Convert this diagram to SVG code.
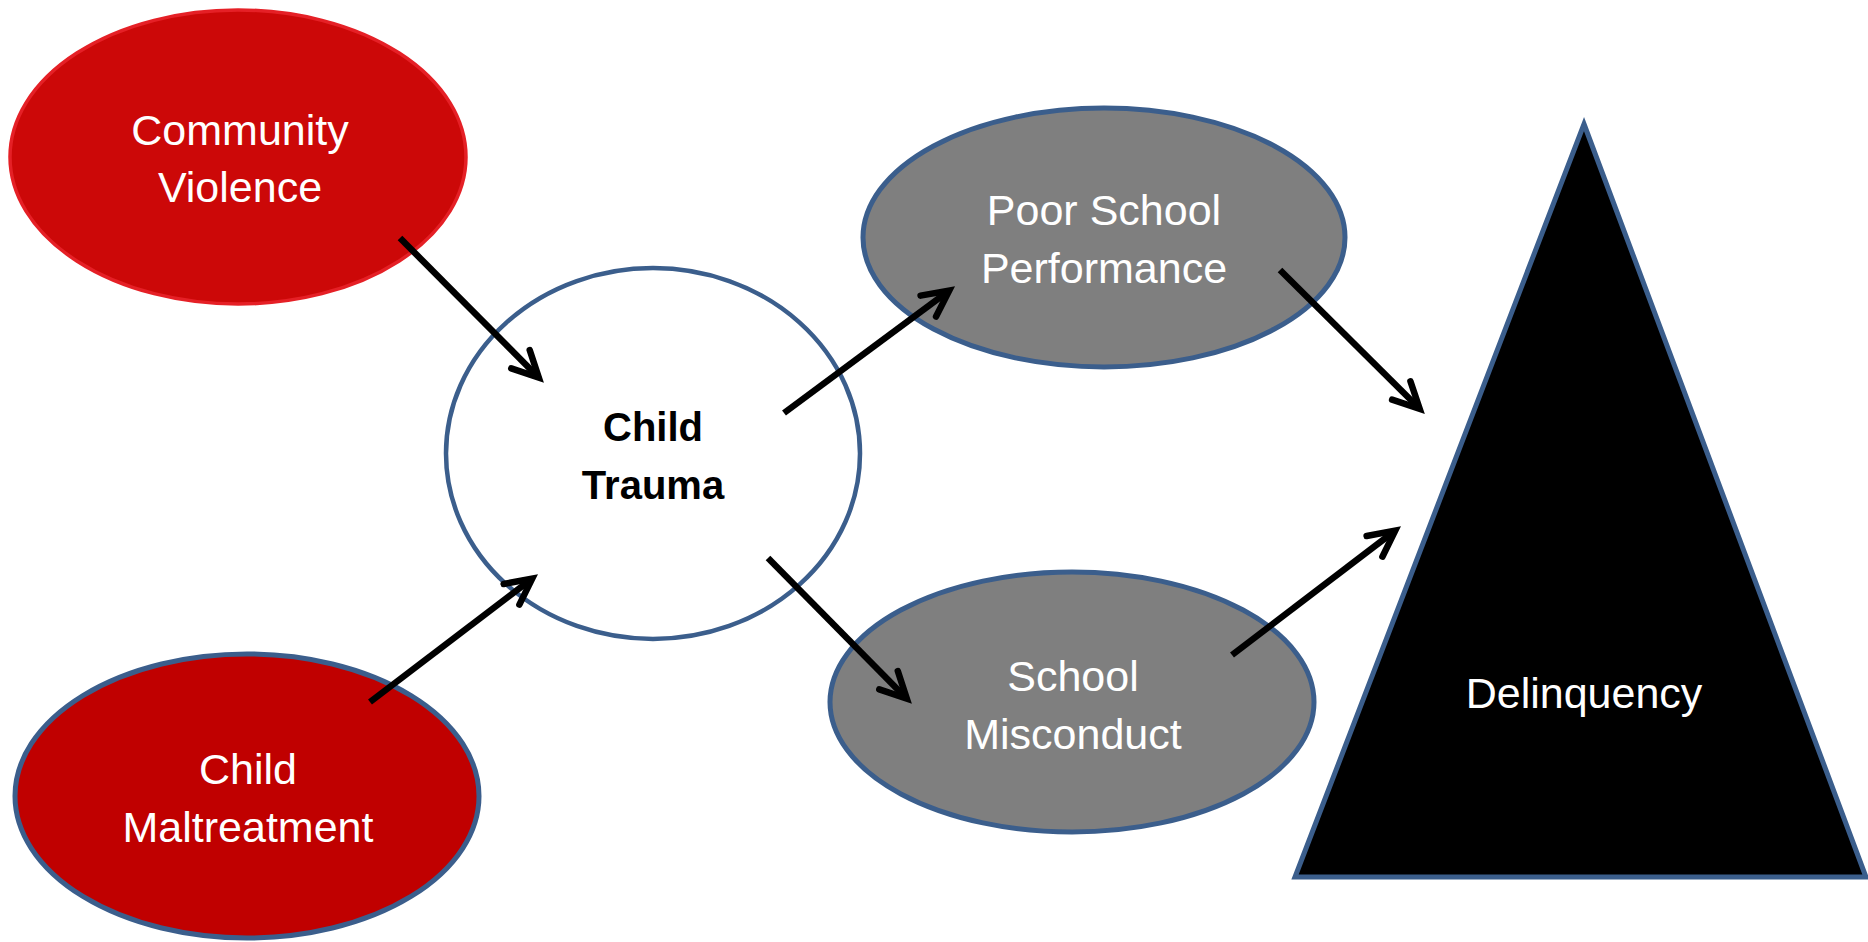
<svg xmlns="http://www.w3.org/2000/svg" width="1868" height="942" viewBox="0 0 1868 942">
<style>
.lbl{font-family:"Liberation Sans",Arial,sans-serif;font-size:43px;fill:#ffffff;text-anchor:middle}
.bold{font-family:"Liberation Sans",Arial,sans-serif;font-size:40px;font-weight:bold;fill:#000000;text-anchor:middle}
.blue{stroke:#3B5E8C;stroke-width:5}
.conn{stroke:#000;stroke-width:6.5;fill:none;stroke-linecap:butt;marker-end:url(#ah)}
</style>
<defs>
<marker id="ah" markerUnits="userSpaceOnUse" viewBox="-40 -25 50 50" refX="0" refY="0" markerWidth="50" markerHeight="50" orient="auto" overflow="visible">
<path d="M-26,-13 L0,0 L-26,13" fill="none" stroke="#000" stroke-width="6.5" stroke-linecap="round" stroke-linejoin="miter"/>
</marker>
</defs>
<rect width="1868" height="942" fill="#ffffff"/>
<g id="community-violence">
<ellipse cx="238" cy="157" rx="228" ry="147" fill="#CC0808" stroke="#E52026" stroke-width="3.5"/>
<text class="lbl" x="240" y="145">Community</text>
<text class="lbl" x="240" y="202">Violence</text>
</g>
<g id="child-maltreatment">
<ellipse cx="247" cy="796" rx="232" ry="142" fill="#C00000" class="blue"/>
<text class="lbl" x="248" y="784">Child</text>
<text class="lbl" x="248" y="842">Maltreatment</text>
</g>
<g id="child-trauma">
<ellipse cx="653" cy="453.5" rx="207" ry="185.5" fill="#ffffff" stroke="#3B5E8C" stroke-width="4.5"/>
<text class="bold" x="653" y="441">Child</text>
<text class="bold" x="653" y="499">Trauma</text>
</g>
<g id="poor-school-performance">
<ellipse cx="1104" cy="237.5" rx="241" ry="129.5" fill="#7F7F7F" class="blue"/>
<text class="lbl" x="1104" y="225">Poor School</text>
<text class="lbl" x="1104" y="283">Performance</text>
</g>
<g id="school-misconduct">
<ellipse cx="1072" cy="702" rx="242" ry="130" fill="#7F7F7F" class="blue"/>
<text class="lbl" x="1073" y="691">School</text>
<text class="lbl" x="1073" y="749">Misconduct</text>
</g>
<g id="delinquency">
<polygon points="1584,124 1866,877 1295,877" fill="#000000" class="blue" stroke-linejoin="miter"/>
<text class="lbl" x="1584" y="708">Delinquency</text>
</g>
<g id="connectors">
<path class="conn" d="M400,238 L538.8,377.7"/>
<path class="conn" d="M370,702 L532.2,578.6"/>
<path class="conn" d="M784,413 L949.2,290.6"/>
<path class="conn" d="M768,558 L906.8,698.7"/>
<path class="conn" d="M1280,270 L1419.7,408.8"/>
<path class="conn" d="M1232,655 L1395.2,530.6"/>
</g>
</svg>
